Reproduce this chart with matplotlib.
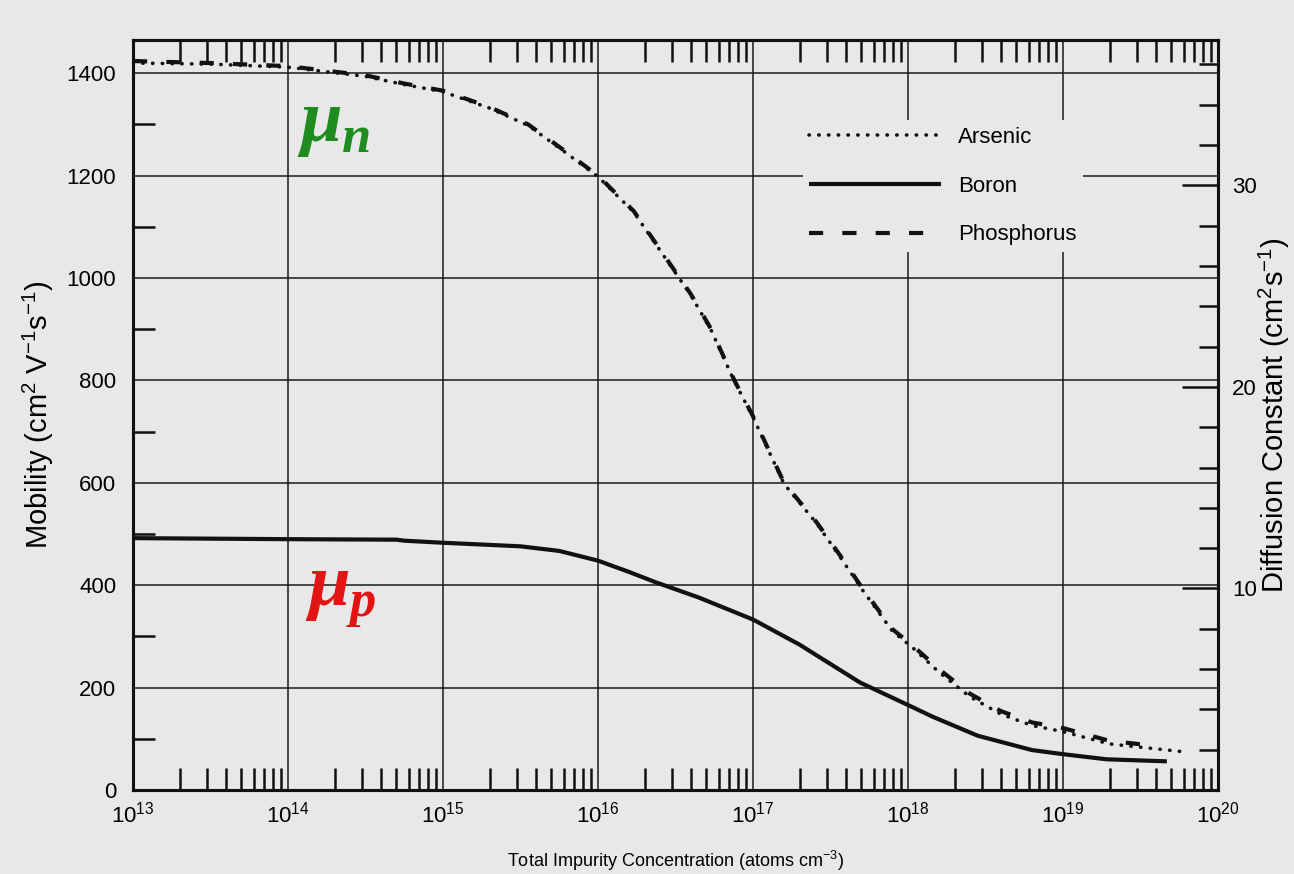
import matplotlib

matplotlib.use("Agg")
import matplotlib.pyplot as plt
import numpy as np
from matplotlib.ticker import FixedLocator, LogLocator, MultipleLocator, NullFormatter

plt.rcParams["font.family"] = ["Liberation Sans", "DejaVu Sans"]
plt.rcParams["mathtext.fontset"] = "custom"
plt.rcParams["mathtext.it"] = "Liberation Serif:italic:bold"
plt.rcParams["mathtext.rm"] = "Liberation Sans"
plt.rcParams["mathtext.default"] = "regular"

BG = "#e8e8e8"
INK = "#111111"

# log10 of concentration (atoms cm^-3) and mobility (cm^2 V^-1 s^-1)
phos_logn = [13.0, 13.5, 14.0, 14.5, 14.75, 15.0, 15.3, 15.55, 15.76, 16.0,
             16.23, 16.45, 16.6, 16.73, 16.88, 17.0, 17.2, 17.41, 17.56, 17.71,
             17.9, 18.03, 18.2, 18.4, 18.6, 18.8, 19.0, 19.3, 19.6]
phos_mob = [1424, 1420, 1414, 1396, 1380, 1366, 1334, 1300, 1254, 1200,
            1131, 1034, 968, 900, 800, 730, 600, 523, 459, 392,
            314, 282, 236, 188, 154, 132, 121, 96, 86]

ars_logn = [13.0, 13.5, 14.0, 14.5, 14.75, 15.0, 15.3, 15.55, 15.76, 16.0,
            16.23, 16.45, 16.6, 16.73, 16.88, 17.0, 17.2, 17.41, 17.56, 17.71,
            17.9, 18.03, 18.2, 18.4, 18.6, 18.8, 19.0, 19.3, 19.55, 19.8]
ars_mob = [1420, 1418, 1412, 1394, 1378, 1364, 1332, 1298, 1252, 1198,
           1129, 1032, 966, 898, 798, 728, 598, 521, 456, 389,
           310, 278, 230, 182, 148, 126, 114, 90, 82, 74]

boron_logn = [13.0, 13.5, 14.0, 14.7, 14.75, 15.0, 15.5, 15.75, 16.0, 16.2,
              16.37, 16.65, 17.0, 17.3, 17.69, 18.0, 18.16, 18.45, 18.8, 19.0,
              19.28, 19.67]
boron_mob = [492, 491, 490, 489, 487, 483, 476, 467, 448, 426,
             406, 376, 333, 284, 210, 166, 143, 106, 78, 70,
             60, 56]

decades = list(range(13, 21))
mob_ticks = list(range(0, 1401, 200))
diff_ticks = [10, 20, 30]
KT_Q = 0.0254  # diffusion constant per unit mobility, as drawn on the right scale

fig = plt.figure(figsize=(12.94, 8.74), dpi=100, facecolor=BG)
ax = fig.add_axes([0.1028, 0.0961, 0.8385, 0.8581], facecolor=BG)

ax.plot(10.0 ** np.array(ars_logn), ars_mob, color=INK, lw=2.6,
        linestyle=(0, (0.1, 2.6)), dash_capstyle="round", label="Arsenic")
ax.plot(10.0 ** np.array(boron_logn), boron_mob, color=INK, lw=3.0,
        solid_capstyle="butt", label="Boron")
ax.plot(10.0 ** np.array(phos_logn), phos_mob, color=INK, lw=3.0,
        linestyle=(0, (3.4, 4.6)), label="Phosphorus")

ax.set_xscale("log")
ax.set_xlim(1e13, 1e20)
ax.set_ylim(0, 1465)

ax.set_xticks([10.0 ** d for d in decades])
ax.set_xticklabels([f"10$^{{{d}}}$" for d in decades])
ax.xaxis.set_minor_locator(LogLocator(base=10, subs=np.arange(2, 10)))
ax.xaxis.set_minor_formatter(NullFormatter())
ax.set_yticks(mob_ticks)
ax.yaxis.set_minor_locator(FixedLocator(list(range(100, 1401, 200))))

ax.grid(True, which="major", color="#1a1a1a", lw=1.1)
for s in ax.spines.values():
    s.set_linewidth(2.2)
    s.set_color(INK)

ax2 = ax.twinx()
ax2.set_ylim(0, 1465 * KT_Q)
ax2.set_yticks(diff_ticks)
ax2.yaxis.set_minor_locator(MultipleLocator(2))
for s in ax2.spines.values():
    s.set_linewidth(2.2)
    s.set_color(INK)

ax.tick_params(axis="x", which="major", direction="in", length=0, labelsize=16, pad=8)
ax.tick_params(axis="x", which="minor", direction="in", length=16, width=1.8,
               top=True, bottom=True, color=INK)
ax.tick_params(axis="y", which="major", direction="in", length=0, labelsize=16, pad=12,
               left=True, right=False)
ax.tick_params(axis="y", which="minor", direction="in", length=16, width=1.8,
               left=True, right=False, color=INK)
ax2.tick_params(axis="y", which="major", direction="in", length=26, width=1.8,
                labelsize=16, pad=10, color=INK)
ax2.tick_params(axis="y", which="minor", direction="in", length=14, width=1.8, color=INK)

ax.set_xlabel("Total Impurity Concentration (atoms cm$^{-3}$)", fontsize=13, labelpad=16)
ax.set_ylabel("Mobility (cm$^2$ V$^{-1}$s$^{-1}$)", fontsize=21, labelpad=8)
ax2.set_ylabel("Diffusion Constant (cm$^2$s$^{-1}$)", fontsize=21, labelpad=0)

leg = ax.legend(loc="upper left", bbox_to_anchor=(0.607, 0.908), fontsize=16,
                handlelength=5.9, handletextpad=0.8, labelspacing=1.25,
                frameon=True, facecolor=BG, edgecolor="none", framealpha=1.0,
                borderpad=0.3)

ax.text(10 ** 14.06, 1300, r"$\mathit{\mu}_{\mathit{n}}$", color="#1f8c1f",
        fontsize=54, ha="left", va="center")
ax.text(10 ** 14.11, 380, r"$\mathit{\mu}_{\mathit{p}}$", color="#e31414",
        fontsize=54, ha="left", va="center")

fig.savefig("out.png", dpi=100, facecolor=BG)
